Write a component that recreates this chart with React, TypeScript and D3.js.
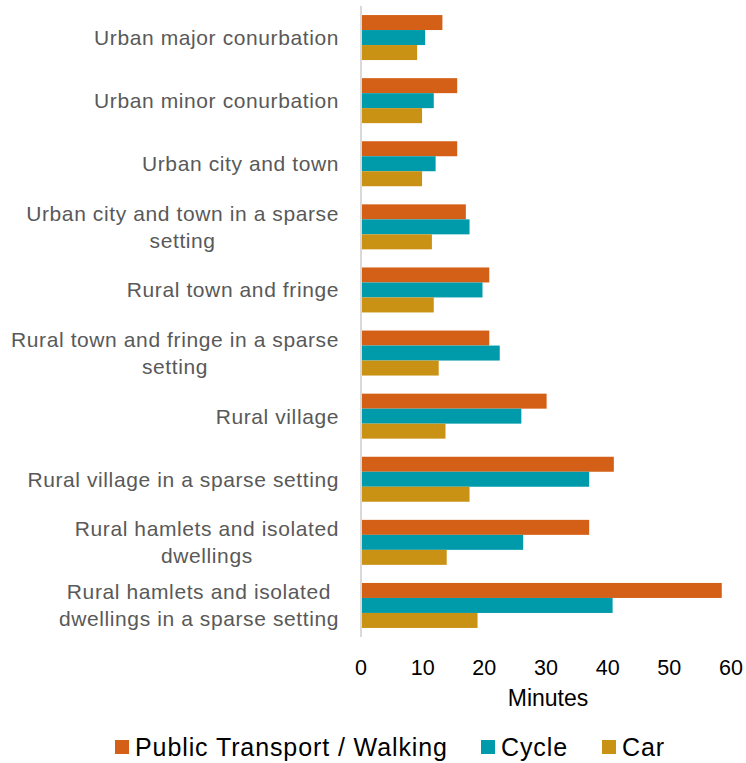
import React from "react";
import * as d3 from "d3";

const categories: string[][] = [
  ["Urban major conurbation"],
  ["Urban minor conurbation"],
  ["Urban city and town"],
  ["Urban city and town in a sparse", "setting"],
  ["Rural town and fringe"],
  ["Rural town and fringe in a sparse", "setting"],
  ["Rural village"],
  ["Rural village in a sparse setting"],
  ["Rural hamlets and isolated", "dwellings"],
  ["Rural hamlets and isolated ", "dwellings in a sparse setting"],
];

const seriesNames = ["Public Transport / Walking", "Cycle", "Car"];
const publicTransport = [13.2, 15.6, 15.6, 17.0, 20.8, 20.8, 30.1, 41.0, 37.0, 58.5];
const cycle = [10.4, 11.8, 12.1, 17.6, 19.7, 22.5, 26.0, 37.0, 26.3, 40.8];
const car = [9.1, 9.9, 9.9, 11.5, 11.8, 12.6, 13.7, 17.6, 13.9, 18.9];
const xTicks = [0, 10, 20, 30, 40, 50, 60];
const colors = ["#D45F17", "#009BAA", "#CA9214"];

const W = 746;
const H = 763;
const FONT = "'Liberation Sans', Arial, sans-serif";
const LABEL_SIZE = 21;
const LABEL_SPACING = 0.6;

let ctx: CanvasRenderingContext2D | null = null;
function measure(s: string, size: number, spacing: number): number {
  if (!ctx) ctx = document.createElement("canvas").getContext("2d");
  if (!ctx) return s.length * size * 0.5;
  ctx.font = `${size}px ${FONT}`;
  return ctx.measureText(s).width + s.length * spacing;
}

export default function App() {
  const series = [publicTransport, cycle, car];
  const ids = categories.map((_, i) => String(i));
  const x = d3.scaleLinear().domain([0, 60]).range([361, 731]);
  const y = d3
    .scaleBand<string>()
    .domain(ids)
    .range([6, 637])
    .paddingInner(0.287)
    .paddingOuter(0.1435);
  const sub = d3
    .scaleBand<number>()
    .domain([0, 1, 2])
    .range([0, y.bandwidth()]);

  const legendX = [115, 481, 602];
  const labelRight = 339;

  return (
    <svg
      width={W}
      height={H}
      style={{ position: "absolute", left: 0, top: 0, background: "#fff" }}
      fontFamily={FONT}
    >
      {ids.map((id, i) =>
        series.map((s, k) => (
          <rect
            key={id + "-" + k}
            x={x(0)}
            y={(y(id) as number) + (sub(k) as number)}
            width={x(s[i]) - x(0)}
            height={sub.bandwidth()}
            fill={colors[k]}
          />
        ))
      )}
      <line x1={x(0)} x2={x(0)} y1={6} y2={637} stroke="#d9d9d9" strokeWidth={2} />
      {categories.map((lines, i) => {
        const cy = (y(String(i)) as number) + y.bandwidth() / 2;
        const lh = 27;
        const start = cy - ((lines.length - 1) * lh) / 2;
        const maxW = Math.max(...lines.map((l) => measure(l.trim(), LABEL_SIZE, LABEL_SPACING)));
        const single = lines.length === 1;
        const cx = labelRight - maxW / 2;
        return (
          <text
            key={"l" + i}
            textAnchor={single ? "end" : "middle"}
            fill="#595959"
            fontSize={LABEL_SIZE}
            letterSpacing={LABEL_SPACING}
          >
            {lines.map((ln, j) => (
              <tspan key={j} x={single ? labelRight : cx} y={start + j * lh} dy="0.35em">
                {ln.trim()}
              </tspan>
            ))}
          </text>
        );
      })}
      {xTicks.map((t) => (
        <text
          key={"t" + t}
          x={x(t)}
          y={667}
          dy="0.35em"
          textAnchor="middle"
          fontSize={21.5}
          fill="#000"
        >
          {t}
        </text>
      ))}
      <text x={(x(0) + x(60)) / 2 + 2} y={698} dy="0.35em" textAnchor="middle" fontSize={23} fill="#000">
        Minutes
      </text>
      {seriesNames.map((n, k) => (
        <g key={"lg" + k}>
          <rect x={legendX[k]} y={740} width={14} height={14} fill={colors[k]} />
          <text
            x={legendX[k] + 20}
            y={747}
            dy="0.35em"
            fontSize={25}
            letterSpacing={0.9}
            fill="#000"
          >
            {n}
          </text>
        </g>
      ))}
    </svg>
  );
}
